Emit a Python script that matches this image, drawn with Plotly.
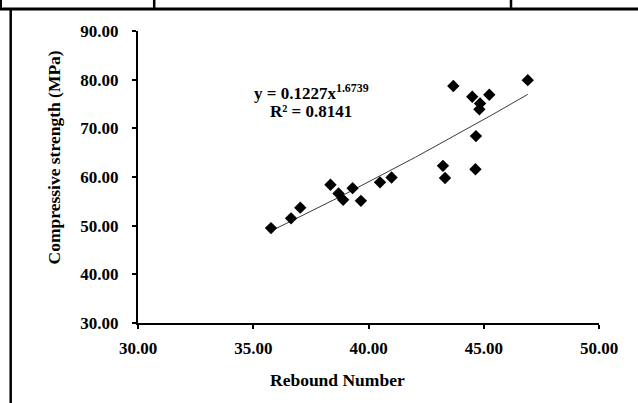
import numpy as np
import plotly.graph_objects as go

# Data
rebound_number = [35.77, 36.64, 37.04, 38.35, 38.70, 38.90, 39.31, 39.67, 40.50, 41.00,
                  43.23, 43.32, 43.68, 44.50, 45.24, 44.84, 44.81, 44.66, 44.64, 46.91]
compressive_strength = [49.5, 51.5, 53.7, 58.4, 56.6, 55.3, 57.7, 55.1, 58.9, 59.9,
                        62.3, 59.8, 78.7, 76.5, 76.9, 75.1, 73.9, 68.4, 61.6, 79.9]

# Power trendline coefficients (as printed on the chart)
fit_a = 0.1227
fit_b = 1.6739
r_squared = 0.8141

x_ticks = [30, 35, 40, 45, 50]
y_ticks = [30, 40, 50, 60, 70, 80, 90]

FONT = "Liberation Serif"

x_fit = np.linspace(min(rebound_number), max(rebound_number), 120)
y_fit = fit_a * x_fit ** fit_b

fig = go.Figure()
fig.add_trace(go.Scatter(x=x_fit, y=y_fit, mode="lines",
                         line=dict(color="#3a3a3a", width=1), hoverinfo="skip",
                         showlegend=False))
fig.add_trace(go.Scatter(x=rebound_number, y=compressive_strength, mode="markers",
                         marker=dict(symbol="diamond", size=9.5, color="black",
                                     line=dict(width=0)),
                         showlegend=False))

W, H = 638, 403
ml, mr, mt, mb = 138, 39, 31, 80
pw, ph = W - ml - mr, H - mt - mb
bottom = H - mb


def px_x(p):
    return (p - ml) / pw


def px_y(p):
    return (bottom - p) / ph


axis_common = dict(showgrid=False, zeroline=False, showline=True, linecolor="black",
                   linewidth=2, ticks="outside", ticklen=4, tickwidth=2,
                   tickcolor="black", tickformat=".2f",
                   tickfont=dict(family=FONT, size=17, color="black", weight="bold"))

fig.update_xaxes(range=[30, 50], tickvals=x_ticks, ticklabelstandoff=5, **axis_common)
fig.update_yaxes(range=[30, 90], tickvals=y_ticks, ticklabelstandoff=10, **axis_common)

title_font = dict(family=FONT, size=17.5, color="black")
annotations = [
    dict(text="<b>Rebound Number</b>", xref="paper", yref="paper",
         x=px_x(337), y=px_y(380), xanchor="center", yanchor="middle",
         showarrow=False, font=title_font),
    dict(text="<b>Compressive strength (MPa)</b>", xref="paper", yref="paper",
         x=px_x(53), y=px_y(157.5), xanchor="center", yanchor="middle",
         textangle=-90, showarrow=False, font=title_font),
    dict(text=f"<b>y = {fit_a}x<sup>{fit_b}</sup></b>", xref="paper", yref="paper",
         x=px_x(311), y=px_y(92), xanchor="center", yanchor="middle",
         showarrow=False, font=dict(family=FONT, size=17, color="black")),
    dict(text=f"<b>R² = {r_squared}</b>", xref="paper", yref="paper",
         x=px_x(311), y=px_y(111), xanchor="center", yanchor="middle",
         showarrow=False, font=dict(family=FONT, size=17, color="black")),
]

line_style = dict(color="black", width=3)
shapes = [
    dict(type="line", xref="paper", yref="paper", x0=px_x(0), x1=px_x(W),
         y0=px_y(9), y1=px_y(9), line=line_style),
    dict(type="line", xref="paper", yref="paper", x0=px_x(10.7), x1=px_x(10.7),
         y0=px_y(9), y1=px_y(H + 2), line=dict(color="black", width=2.5)),
    dict(type="line", xref="paper", yref="paper", x0=px_x(1), x1=px_x(1),
         y0=px_y(-1), y1=px_y(9), line=dict(color="black", width=2)),
    dict(type="line", xref="paper", yref="paper", x0=px_x(154.2), x1=px_x(154.2),
         y0=px_y(-1), y1=px_y(9), line=dict(color="black", width=2.5)),
    dict(type="line", xref="paper", yref="paper", x0=px_x(511), x1=px_x(511),
         y0=px_y(-1), y1=px_y(9), line=dict(color="black", width=2.5)),
]

fig.update_layout(width=W, height=H, margin=dict(l=ml, r=mr, t=mt, b=mb),
                  paper_bgcolor="white", plot_bgcolor="white",
                  annotations=annotations, shapes=shapes, showlegend=False)

fig.write_html("out.html", config={"displayModeBar": False},
               post_script="document.body.style.margin='0';document.body.style.overflow='hidden';")
